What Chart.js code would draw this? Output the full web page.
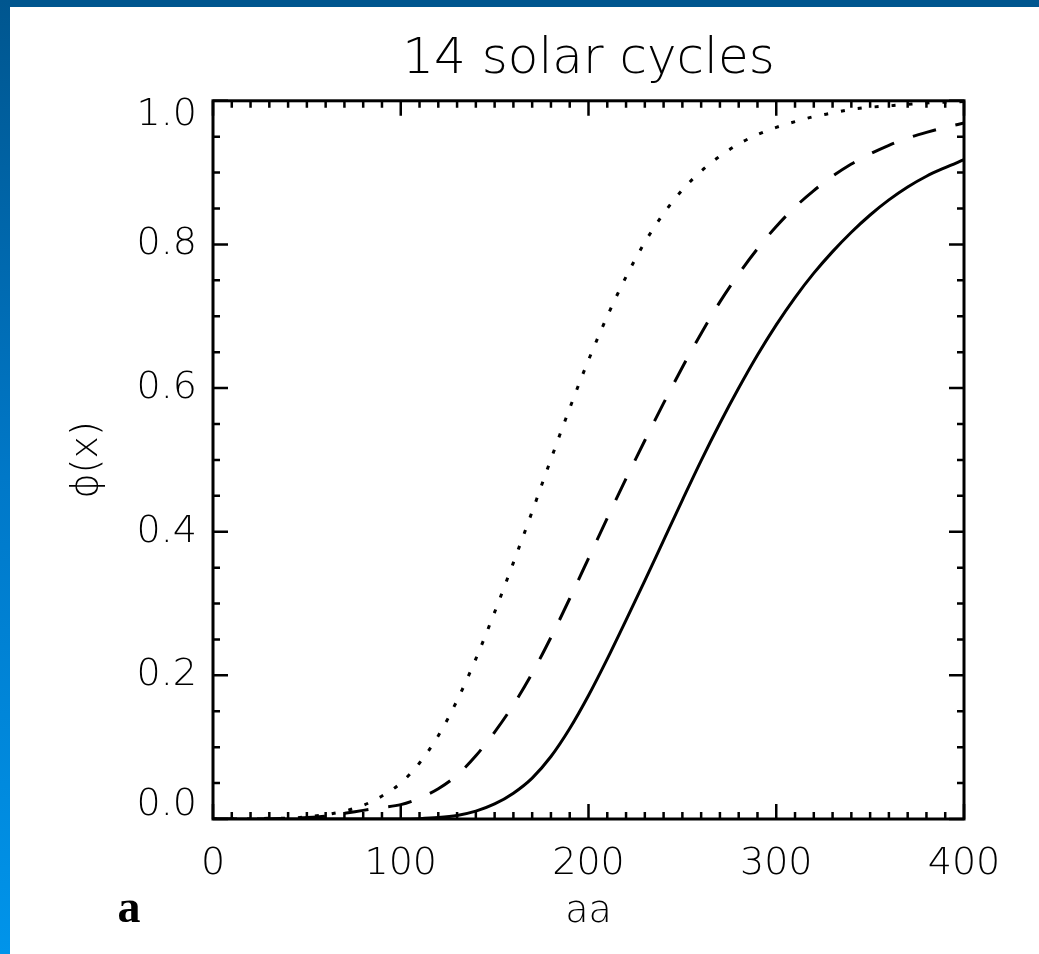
<!DOCTYPE html>
<html lang="en">
<head>
<meta charset="UTF-8">
<script src="https://cdn.jsdelivr.net/npm/chart.js"></script>
<title>14 solar cycles</title>
<style>
  html, body { margin: 0; padding: 0; background: #fff; }
  #frameTop { position: absolute; left: 0; top: 0; width: 1039px; height: 7px; background: #00568f; }
  #frameLeft { position: absolute; left: 0; top: 0; width: 10px; height: 954px;
    background: linear-gradient(to bottom, #00568f 0%, #0078c8 50%, #0094ea 100%); }
  #wrap { position: absolute; left: 0; top: 0; width: 1039px; height: 954px; }
</style>
</head>
<body>
<div id="frameTop"></div>
<div id="frameLeft"></div>
<div id="wrap"><canvas id="phiChart" width="1039" height="954"></canvas></div>
<script>
// aa values (x axis)
var aaValues = [0, 10, 20, 30, 40, 50, 60, 70, 80, 90, 100, 110, 120, 130, 140, 150, 160, 170, 180, 190, 200,
  210, 220, 230, 240, 250, 260, 270, 280, 290, 300, 310, 320, 330, 340, 350, 360, 370, 380, 390, 400];

// solid curve
var phiSolid = [0, 0, 0, 0, 0, 0, 0, 0, 0, 0, 0, 0.0005, 0.002, 0.005, 0.011, 0.021, 0.036, 0.057, 0.087, 0.126, 0.172,
  0.223, 0.277, 0.332, 0.388, 0.444, 0.499, 0.551, 0.6, 0.646, 0.688, 0.726, 0.76, 0.79, 0.817, 0.841, 0.862, 0.88, 0.895, 0.907, 0.918];

// dashed curve
var phiDashed = [0, 0, 0, 0, 0.001, 0.002, 0.004, 0.008, 0.012, 0.016, 0.02, 0.029, 0.042, 0.061, 0.088, 0.121, 0.159, 0.203, 0.253, 0.307, 0.363,
  0.419, 0.474, 0.527, 0.579, 0.629, 0.676, 0.72, 0.759, 0.794, 0.825, 0.852, 0.875, 0.895, 0.912, 0.926, 0.938, 0.948, 0.956, 0.963, 0.969];

// dotted curve
var phiDotted = [0, 0, 0, 0.001, 0.001, 0.003, 0.006, 0.011, 0.019, 0.032, 0.05, 0.078, 0.116, 0.165, 0.223, 0.288, 0.357, 0.428, 0.501, 0.572, 0.639,
  0.7, 0.755, 0.803, 0.843, 0.876, 0.902, 0.923, 0.94, 0.953, 0.963, 0.971, 0.978, 0.983, 0.988, 0.991, 0.993, 0.995, 0.997, 0.998, 0.999];

var yTickValues = [0, 0.2, 0.4, 0.6, 0.8, 1.0];
var yTickLabels = ['0.0', '0.2', '0.4', '0.6', '0.8', '1.0'];
var xMinorStep = 10, xMajorStep = 100;
var yMinorStep = 0.05;

function toPoints(ys) {
  return aaValues.map(function (x, i) { return { x: x, y: ys[i] }; });
}

var fontFamily = '"DejaVu Sans", sans-serif';
var tickFont = { family: fontFamily, size: 38, weight: 200 };

// box + inward ticks, like the IDL frame
var framePlugin = {
  id: 'frame',
  afterDatasetsDraw: function (chart) {
    var ctx = chart.ctx, a = chart.chartArea;
    var xs = chart.scales.x, ys = chart.scales.y;
    ctx.save();
    ctx.strokeStyle = '#000';
    ctx.lineWidth = 3;
    ctx.strokeRect(a.left, a.top, a.right - a.left, a.bottom - a.top);
    ctx.lineWidth = 2.5;
    ctx.beginPath();
    var v, p, len;
    for (v = 0; v <= 400 + 0.001; v += xMinorStep) {
      p = xs.getPixelForValue(v);
      len = (Math.abs(v % xMajorStep) < 0.001) ? 15 : 7;
      ctx.moveTo(p, a.bottom); ctx.lineTo(p, a.bottom - len);
      ctx.moveTo(p, a.top); ctx.lineTo(p, a.top + len);
    }
    for (var i = 0; i <= 20; i++) {
      v = i * yMinorStep;
      p = ys.getPixelForValue(v);
      len = (i % 4 === 0) ? 15 : 7;
      ctx.moveTo(a.left, p); ctx.lineTo(a.left + len, p);
      ctx.moveTo(a.right, p); ctx.lineTo(a.right - len, p);
    }
    ctx.stroke();
    ctx.restore();
  },
  afterDraw: function (chart) {
    var ctx = chart.ctx, a = chart.chartArea, ys = chart.scales.y;
    ctx.save();
    ctx.fillStyle = '#000';
    ctx.font = '200 38px ' + fontFamily;
    ctx.textAlign = 'right';
    ctx.textBaseline = 'middle';
    // end labels sit inside the frame, as in the original
    yTickValues.forEach(function (v, i) {
      var p = ys.getPixelForValue(v);
      p = Math.min(Math.max(p, a.top + 14), a.bottom - 14);
      ctx.fillText(yTickLabels[i], a.left - 16, p);
    });
    // panel letter
    ctx.font = 'bold 46px "Liberation Serif", serif';
    ctx.textAlign = 'center';
    ctx.fillText('a', 129, 910);
    ctx.restore();
  }
};

new Chart(document.getElementById('phiChart'), {
  type: 'line',
  data: {
    datasets: [
      { label: 'solid', data: toPoints(phiSolid), borderColor: '#000', borderWidth: 3, pointRadius: 0, fill: false,
        cubicInterpolationMode: 'monotone' },
      { label: 'dashed', data: toPoints(phiDashed), borderColor: '#000', borderWidth: 3, pointRadius: 0, fill: false,
        borderDash: [24, 20], cubicInterpolationMode: 'monotone' },
      { label: 'dotted', data: toPoints(phiDotted), borderColor: '#000', borderWidth: 3, pointRadius: 0, fill: false,
        borderDash: [4, 13], cubicInterpolationMode: 'monotone' }
    ]
  },
  options: {
    responsive: false,
    animation: false,
    layout: { padding: { left: 0, right: 75, top: 0, bottom: 0 } },
    plugins: {
      legend: { display: false },
      tooltip: { enabled: false },
      title: {
        display: true,
        text: '14 solar cycles',
        color: '#000',
        fullSize: false,
        font: { family: fontFamily, size: 50, weight: 200 },
        padding: { top: 30, bottom: 10.8 }
      }
    },
    scales: {
      x: {
        type: 'linear',
        min: 0,
        max: 400,
        grid: { display: false, drawTicks: false },
        border: { display: false },
        ticks: { stepSize: xMajorStep, color: '#000', font: tickFont, padding: 22, maxRotation: 0, autoSkip: false },
        title: { display: true, text: 'aa', color: '#000', font: tickFont, padding: { top: 0, bottom: 19 } },
        afterFit: function (s) { s.height = 135; }
      },
      y: {
        min: 0,
        max: 1,
        grid: { display: false, drawTicks: false },
        border: { display: false },
        ticks: { display: false },
        title: { display: true, text: 'ϕ(x)', color: '#000', font: tickFont, padding: { top: 64, bottom: 0 } },
        afterFit: function (s) { s.width = 213; }
      }
    }
  },
  plugins: [framePlugin]
});
</script>
</body>
</html>
